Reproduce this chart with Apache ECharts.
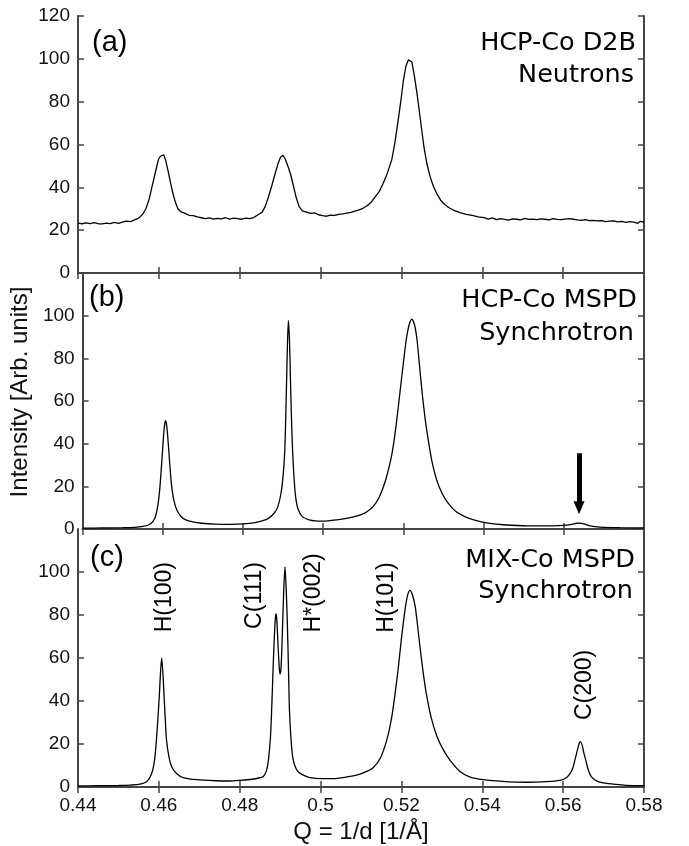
<!DOCTYPE html>
<html>
<head>
<meta charset="utf-8">
<script src="https://cdn.jsdelivr.net/npm/echarts@6/dist/echarts.min.js"></script>
<style>
  html, body { margin: 0; padding: 0; background: #fff; }
  #chart { width: 689px; height: 846px; }
</style>
</head>
<body>
<div id="chart"></div>
<script>
  // x ticks (Q = 1/d)
  const qTicks = [0.44, 0.46, 0.48, 0.5, 0.52, 0.54, 0.56, 0.58];

  // (a) HCP-Co D2B, neutrons
  const neutronQ = [
    0.4400, 0.4410, 0.4420, 0.4430, 0.4440, 0.4450, 0.4460, 0.4470, 0.4480, 0.4490,
    0.4500, 0.4510, 0.4520, 0.4530, 0.4540, 0.4550, 0.4560, 0.4568, 0.4576, 0.4584,
    0.4592, 0.4599, 0.4604, 0.4608, 0.4612, 0.4617, 0.4623, 0.4629, 0.4635, 0.4641,
    0.4647, 0.4655, 0.4665, 0.4675, 0.4685, 0.4695, 0.4705, 0.4715, 0.4725, 0.4735,
    0.4745, 0.4755, 0.4765, 0.4775, 0.4785, 0.4795, 0.4805, 0.4815, 0.4825, 0.4835,
    0.4845, 0.4855, 0.4863, 0.4871, 0.4879, 0.4887, 0.4895, 0.4901, 0.4907, 0.4913,
    0.4919, 0.4926, 0.4933, 0.4940, 0.4947, 0.4955, 0.4965, 0.4975, 0.4985, 0.4995,
    0.5005, 0.5015, 0.5025, 0.5035, 0.5045, 0.5055, 0.5065, 0.5075, 0.5085, 0.5095,
    0.5105, 0.5115, 0.5125, 0.5135, 0.5145, 0.5155, 0.5165, 0.5176, 0.5184, 0.5192,
    0.5199, 0.5205, 0.5211, 0.5217, 0.5221, 0.5226, 0.5232, 0.5238, 0.5244, 0.5250,
    0.5256, 0.5263, 0.5271, 0.5279, 0.5287, 0.5297, 0.5307, 0.5317, 0.5330, 0.5345,
    0.5360, 0.5375, 0.5390, 0.5405, 0.5415, 0.5425, 0.5435, 0.5445, 0.5455, 0.5465,
    0.5475, 0.5485, 0.5495, 0.5505, 0.5515, 0.5525, 0.5535, 0.5545, 0.5555, 0.5565,
    0.5575, 0.5585, 0.5595, 0.5605, 0.5615, 0.5625, 0.5635, 0.5645, 0.5655, 0.5665,
    0.5675, 0.5685, 0.5695, 0.5705, 0.5715, 0.5725, 0.5735, 0.5745, 0.5755, 0.5765,
    0.5775, 0.5785, 0.5790, 0.5800
  ];
  const neutronI = [
    23.3, 23.0, 23.4, 23.1, 23.5, 23.0, 22.9, 23.3, 23.1, 23.6,
    23.2, 23.8, 24.2, 24.0, 24.8, 25.6, 27.5, 30.0, 34.5, 41.0,
    47.5, 53.0, 54.5, 54.3, 55.2, 52.5, 47.5, 42.0, 37.0, 33.0,
    30.0, 28.5, 27.8, 26.9, 26.8, 26.2, 25.8, 25.4, 25.7, 25.2,
    25.5, 25.3, 25.8, 25.2, 25.6, 25.4, 25.1, 25.6, 25.4, 25.9,
    27.2, 28.3, 31.0, 35.5, 40.5, 46.0, 51.2, 54.0, 55.0, 53.0,
    50.0, 46.0, 40.5, 35.0, 31.0, 29.0, 28.4, 27.8, 28.1, 27.2,
    26.8, 26.5, 27.0, 26.9, 27.4, 27.6, 28.0, 28.3, 28.9, 29.5,
    30.2, 31.4, 33.0, 35.5, 38.0, 41.9, 46.5, 52.8, 61.0, 71.4,
    81.0, 90.1, 96.5, 99.5, 100.0, 98.5, 92.0, 84.5, 76.0, 67.0,
    58.5, 51.0, 45.0, 40.5, 37.2, 34.0, 32.0, 30.6, 29.2, 28.2,
    27.4, 26.9, 26.2, 25.9, 25.2, 25.7, 24.9, 25.4, 25.0, 24.7,
    25.3, 25.1, 24.8, 25.5, 25.0, 25.2, 24.9, 25.3, 25.1, 24.8,
    25.4, 25.0, 24.9, 25.2, 25.4, 25.1, 24.8, 24.6, 24.9, 24.4,
    24.6, 24.3, 24.5, 24.0, 24.2, 24.3, 23.9, 24.1, 23.6, 24.0,
    23.8, 23.2, 24.1, 23.8
  ];

  // (b) HCP-Co MSPD, synchrotron
  const hcpQ = [
    0.4400, 0.4450, 0.4500, 0.4530, 0.4550, 0.4565, 0.4575, 0.4582, 0.4588, 0.4593,
    0.4598, 0.4602, 0.4605, 0.4607, 0.4609, 0.4612, 0.4616, 0.4621, 0.4627, 0.4635,
    0.4645, 0.4656, 0.4675, 0.4697, 0.4730, 0.4770, 0.4800, 0.4830, 0.4850, 0.4865,
    0.4878, 0.4887, 0.4895, 0.4900, 0.4904, 0.4907, 0.4910, 0.4913, 0.4916, 0.4919,
    0.4922, 0.4926, 0.4931, 0.4937, 0.4948, 0.4965, 0.4980, 0.5000, 0.5020, 0.5043,
    0.5070, 0.5093, 0.5110, 0.5125, 0.5140, 0.5155, 0.5168, 0.5176, 0.5184, 0.5192,
    0.5200, 0.5207, 0.5214, 0.5221, 0.5228, 0.5234, 0.5240, 0.5246, 0.5254, 0.5262,
    0.5272, 0.5283, 0.5297, 0.5312, 0.5330, 0.5353, 0.5380, 0.5411, 0.5450, 0.5510,
    0.5570, 0.5600, 0.5620, 0.5632, 0.5640, 0.5650, 0.5665, 0.5690, 0.5741, 0.5800
  ];
  const hcpI = [
    0.4, 0.5, 0.6, 0.8, 1.2, 2.0, 3.5, 6.0, 11.5, 20.0,
    33.0, 44.0, 49.5, 50.8, 49.5, 44.0, 34.0, 22.0, 14.0, 8.9,
    6.0, 4.4, 3.3, 2.7, 2.3, 2.2, 2.4, 3.0, 3.9, 5.2,
    7.5, 10.5, 17.0, 25.0, 36.0, 55.0, 80.0, 97.7, 88.0, 65.0,
    45.0, 28.0, 15.5, 9.5, 5.8, 4.3, 3.8, 3.7, 4.0, 4.5,
    5.4, 6.6, 8.2, 10.6, 15.0, 22.5, 32.0, 40.5, 52.0, 65.0,
    78.0, 88.6, 95.5, 98.4, 95.5, 88.6, 77.0, 65.2, 52.0, 41.7,
    31.0, 23.0, 16.5, 12.0, 8.3, 5.8, 4.0, 2.8, 2.0, 1.5,
    1.5, 1.7, 2.2, 2.7, 2.8, 2.4, 1.5, 0.9, 0.6, 0.5
  ];

  // (c) MIX-Co MSPD, synchrotron
  const mixQ = [
    0.4400, 0.4450, 0.4500, 0.4530, 0.4553, 0.4570, 0.4582, 0.4589, 0.4594, 0.4598,
    0.4601, 0.4604, 0.4607, 0.4610, 0.4613, 0.4616, 0.4619, 0.4625, 0.4632, 0.4645,
    0.4660, 0.4694, 0.4740, 0.4776, 0.4801, 0.4830, 0.4850, 0.4858, 0.4866, 0.4871,
    0.4876, 0.4879, 0.4882, 0.4885, 0.4888, 0.4890, 0.4892, 0.4895, 0.4898, 0.4900,
    0.4902, 0.4904, 0.4906, 0.4909, 0.4912, 0.4915, 0.4918, 0.4921, 0.4923, 0.4927,
    0.4931, 0.4937, 0.4945, 0.4960, 0.4974, 0.5000, 0.5031, 0.5060, 0.5089, 0.5110,
    0.5130, 0.5148, 0.5164, 0.5176, 0.5184, 0.5192, 0.5200, 0.5209, 0.5215, 0.5221,
    0.5227, 0.5234, 0.5240, 0.5246, 0.5254, 0.5262, 0.5274, 0.5287, 0.5303, 0.5320,
    0.5345, 0.5370, 0.5402, 0.5450, 0.5510, 0.5560, 0.5592, 0.5607, 0.5617, 0.5624,
    0.5629, 0.5635, 0.5640, 0.5643, 0.5647, 0.5651, 0.5656, 0.5662, 0.5670, 0.5685,
    0.5699, 0.5730, 0.5757, 0.5800
  ];
  const mixI = [
    0.5, 0.6, 0.7, 0.9, 1.3, 2.5, 6.2, 12.0, 21.8, 33.0,
    42.0, 53.0, 60.0, 53.0, 42.0, 31.0, 21.8, 14.0, 9.3, 6.0,
    4.4, 3.4, 2.9, 2.8, 3.1, 3.6, 4.3, 4.8, 7.5, 12.5,
    23.0, 35.8, 52.0, 67.0, 78.0, 80.6, 77.0, 65.0, 55.0, 52.5,
    55.0, 63.0, 74.7, 92.0, 102.4, 92.0, 74.7, 52.0, 35.8, 22.0,
    14.0, 9.5, 7.0, 5.3, 4.4, 3.9, 3.9, 4.5, 5.5, 6.9,
    9.0, 13.5, 22.0, 32.5, 43.0, 55.0, 69.0, 82.5, 89.0, 91.5,
    89.5, 84.0, 75.0, 65.0, 53.0, 43.0, 32.0, 24.0, 17.5, 12.5,
    7.2, 4.6, 3.4, 2.6, 2.2, 2.5, 3.1, 4.2, 6.2, 8.8,
    12.5, 17.0, 20.5, 21.0, 19.5, 16.0, 12.5, 8.0, 4.7, 2.6,
    1.9, 1.2, 0.8, 0.6
  ];

  // reflection labels in (c)
  const peakNames = ['H(100)', 'C(111)', 'H*(002)', 'H(101)', 'C(200)'];
  const peakLabelQ = [0.4615, 0.4838, 0.4982, 0.5164, 0.5652];
  const peakLabelI = [88.3, 89.1, 90.3, 88.1, 47.5];

  // arrow in (b)
  const arrowQ = 0.5638;
  const arrowFrom = 35.5;
  const arrowTo = 10;

  const tickFont = "'Liberation Sans', Arial, sans-serif";
  const titleFont = "'DejaVu Sans', Verdana, sans-serif";
  const frameColor = '#444';

  const zip = (xs, ys) => xs.map((x, i) => [x, ys[i]]);

  const grids = [
    { left: 78, top: 16, width: 566, height: 257 },
    { left: 78, top: 273, width: 566, height: 256 },
    { left: 78, top: 529, width: 566, height: 258 }
  ];

  const xAxes = [];
  const yAxes = [];
  grids.forEach((g, i) => {
    const last = i === grids.length - 1;
    const base = {
      type: 'value',
      gridIndex: i,
      min: qTicks[0],
      max: qTicks[qTicks.length - 1],
      interval: 0.02,
      axisLine: { show: true, lineStyle: { color: frameColor, width: 2 } },
      axisTick: { show: true, inside: true, length: 6, lineStyle: { color: frameColor, width: 1.5 } },
      splitLine: { show: false }
    };
    xAxes.push(Object.assign({}, base, {
      position: 'bottom',
      axisLabel: { show: last, fontSize: 19, fontFamily: tickFont, color: '#111', margin: 9 },
      name: last ? 'Q = 1/d [1/Å]' : '',
      nameLocation: 'middle',
      nameGap: 33,
      nameTextStyle: { fontSize: 24, fontFamily: tickFont, color: '#111' }
    }));
    xAxes.push(Object.assign({}, base, { position: 'top', axisLabel: { show: false } }));

    const ybase = {
      type: 'value',
      gridIndex: i,
      min: 0,
      max: 120,
      interval: 20,
      axisLine: { show: true, lineStyle: { color: frameColor, width: 2 } },
      axisTick: { show: true, inside: true, length: 6, lineStyle: { color: frameColor, width: 1.5 } },
      splitLine: { show: false }
    };
    yAxes.push(Object.assign({}, ybase, {
      position: 'left',
      axisLabel: {
        show: true, fontSize: 19, fontFamily: tickFont, color: '#111', margin: 8,
        showMaxLabel: i === 0
      },
      name: i === 1 ? 'Intensity [Arb. units]' : '',
      nameLocation: 'middle',
      nameGap: 36,
      nameTextStyle: { fontSize: 24, fontFamily: tickFont, color: '#111', padding: [0, 0, 0, 18] }
    }));
    yAxes.push(Object.assign({}, ybase, { position: 'right', axisLabel: { show: false } }));
  });

  const lineSeries = (data, i, extra) => Object.assign({
    type: 'line',
    xAxisIndex: i * 2,
    yAxisIndex: i * 2,
    data: data,
    showSymbol: false,
    symbol: 'none',
    smooth: i === 0 ? false : 0.25,
    lineStyle: { color: '#000', width: 1.3 },
    silent: true,
    animation: false
  }, extra || {});

  const chart = echarts.init(document.getElementById('chart'));

  const option = {
    backgroundColor: '#fff',
    animation: false,
    grid: grids,
    xAxis: xAxes,
    yAxis: yAxes,
    series: [
      lineSeries(zip(neutronQ, neutronI), 0),
      lineSeries(zip(hcpQ, hcpI), 1, {
        markLine: {
          silent: true,
          symbol: ['none', 'triangle'],
          symbolSize: [11, 13],
          label: { show: false },
          lineStyle: { color: '#000', width: 5, type: 'solid' },
          data: [[{ coord: [arrowQ, arrowFrom] }, { coord: [arrowQ, arrowTo] }]]
        }
      }),
      lineSeries(zip(mixQ, mixI), 2),
      {
        type: 'scatter',
        xAxisIndex: 4,
        yAxisIndex: 4,
        symbolSize: 0,
        itemStyle: { color: '#000' },
        silent: true,
        data: peakNames.map((n, k) => ({ name: n, value: [peakLabelQ[k], peakLabelI[k]] })),
        label: {
          show: true,
          position: 'inside',
          rotate: 90,
          formatter: (p) => p.name,
          fontSize: 23,
          fontFamily: tickFont,
          color: '#000',
          textBorderWidth: 0,
          opacity: 1
        }
      }
    ],
    graphic: [
      // panel letters
      { type: 'text', x: 92, y: 43, style: { text: '(a)', fontSize: 29, fontFamily: tickFont, fill: '#000', verticalAlign: 'middle' } },
      { type: 'text', x: 89, y: 298, style: { text: '(b)', fontSize: 29, fontFamily: tickFont, fill: '#000', verticalAlign: 'middle' } },
      { type: 'text', x: 90, y: 558, style: { text: '(c)', fontSize: 29, fontFamily: tickFont, fill: '#000', verticalAlign: 'middle' } },
      // panel titles
      { type: 'text', x: 636, y: 43, style: { text: 'HCP-Co D2B', fontSize: 25.5, fontFamily: titleFont, fill: '#000', align: 'right', verticalAlign: 'middle' } },
      { type: 'text', x: 634, y: 75, style: { text: 'Neutrons', fontSize: 25.5, fontFamily: titleFont, fill: '#000', align: 'right', verticalAlign: 'middle' } },
      { type: 'text', x: 637, y: 300, style: { text: 'HCP-Co MSPD', fontSize: 25.5, fontFamily: titleFont, fill: '#000', align: 'right', verticalAlign: 'middle' } },
      { type: 'text', x: 634, y: 333, style: { text: 'Synchrotron', fontSize: 25.5, fontFamily: titleFont, fill: '#000', align: 'right', verticalAlign: 'middle' } },
      { type: 'text', x: 635, y: 560, style: { text: 'MIX-Co MSPD', fontSize: 25.5, fontFamily: titleFont, fill: '#000', align: 'right', verticalAlign: 'middle' } },
      { type: 'text', x: 633, y: 591, style: { text: 'Synchrotron', fontSize: 25.5, fontFamily: titleFont, fill: '#000', align: 'right', verticalAlign: 'middle' } }
    ]
  };

  chart.setOption(option);
</script>
</body>
</html>
